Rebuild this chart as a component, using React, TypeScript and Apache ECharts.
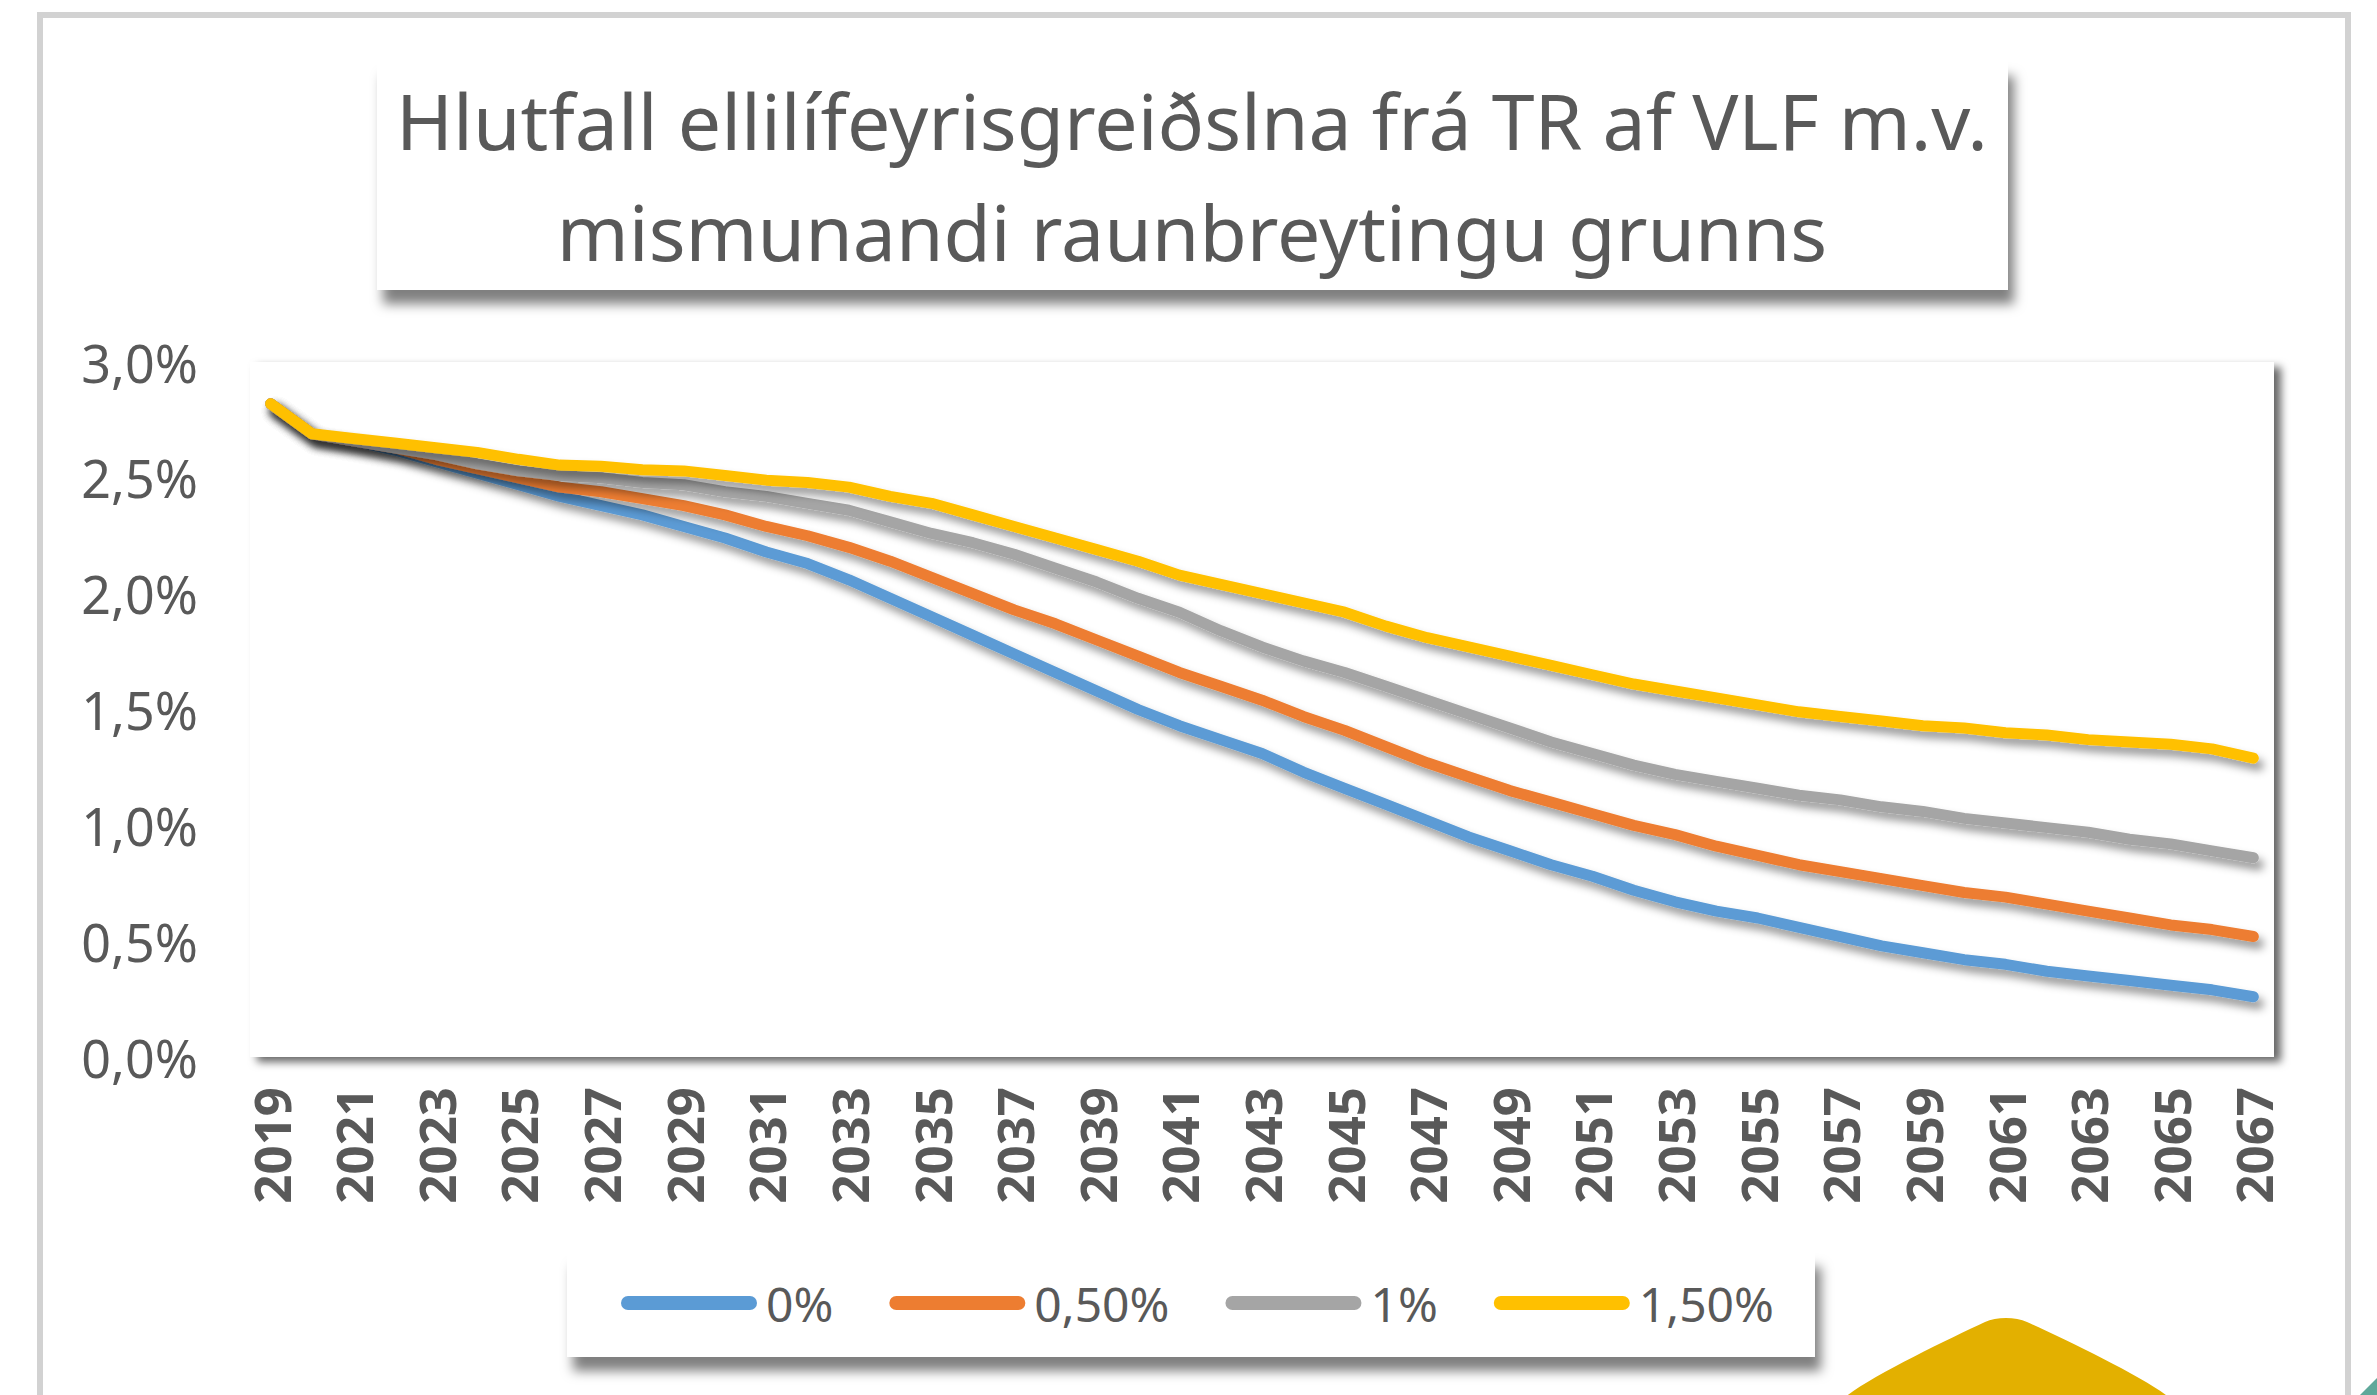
import React, { useEffect, useRef } from "react";
import * as echarts from "echarts";

const years = [
  "2019", "2020", "2021", "2022", "2023", "2024", "2025", "2026", "2027", "2028",
  "2029", "2030", "2031", "2032", "2033", "2034", "2035", "2036", "2037", "2038",
  "2039", "2040", "2041", "2042", "2043", "2044", "2045", "2046", "2047", "2048",
  "2049", "2050", "2051", "2052", "2053", "2054", "2055", "2056", "2057", "2058",
  "2059", "2060", "2061", "2062", "2063", "2064", "2065", "2066", "2067",
];

const seriesNames = ["0%", "0,50%", "1%", "1,50%"];

const growth0 = [
  2.82, 2.69, 2.66, 2.62, 2.57, 2.52, 2.47, 2.42, 2.38, 2.34,
  2.29, 2.24, 2.18, 2.13, 2.06, 1.98, 1.9, 1.82, 1.74, 1.66,
  1.58, 1.5, 1.43, 1.37, 1.31, 1.23, 1.16, 1.09, 1.02, 0.95,
  0.89, 0.83, 0.78, 0.72, 0.67, 0.63, 0.6, 0.56, 0.52, 0.48,
  0.45, 0.42, 0.4, 0.37, 0.35, 0.33, 0.31, 0.29, 0.26,
];

const growth050 = [
  2.82, 2.69, 2.66, 2.63, 2.58, 2.54, 2.5, 2.46, 2.44, 2.41,
  2.38, 2.34, 2.29, 2.25, 2.2, 2.14, 2.07, 2.0, 1.93, 1.87,
  1.8, 1.73, 1.66, 1.6, 1.54, 1.47, 1.41, 1.34, 1.27, 1.21,
  1.15, 1.1, 1.05, 1.0, 0.96, 0.91, 0.87, 0.83, 0.8, 0.77,
  0.74, 0.71, 0.69, 0.66, 0.63, 0.6, 0.57, 0.55, 0.52,
];

const growth1 = [
  2.82, 2.69, 2.66, 2.63, 2.6, 2.56, 2.53, 2.51, 2.5, 2.48,
  2.47, 2.44, 2.42, 2.39, 2.36, 2.31, 2.26, 2.22, 2.17, 2.11,
  2.05, 1.98, 1.92, 1.84, 1.77, 1.71, 1.66, 1.6, 1.54, 1.48,
  1.42, 1.36, 1.31, 1.26, 1.22, 1.19, 1.16, 1.13, 1.11, 1.08,
  1.06, 1.03, 1.01, 0.99, 0.97, 0.94, 0.92, 0.89, 0.86,
];

const growth150 = [
  2.82, 2.69, 2.67, 2.65, 2.63, 2.61, 2.58, 2.555, 2.55, 2.535,
  2.53, 2.51, 2.49, 2.48, 2.46, 2.42, 2.39, 2.34, 2.29, 2.24,
  2.19, 2.14, 2.08, 2.04, 2.0, 1.96, 1.92, 1.86, 1.81, 1.77,
  1.73, 1.69, 1.65, 1.61, 1.58, 1.55, 1.52, 1.49, 1.47, 1.45,
  1.43, 1.42, 1.4, 1.39, 1.37, 1.36, 1.35, 1.33, 1.29,
];

const seriesData = [growth0, growth050, growth1, growth150];
const seriesColors = ["#5B9BD5", "#ED7D31", "#A5A5A5", "#FFC000"];

const titleLines = [
  "Hlutfall ellilífeyrisgreiðslna frá TR af VLF m.v.",
  "mismunandi raunbreytingu grunns",
];

const FONT = '"Noto Sans", "Open Sans", sans-serif';
const TEXT_COLOR = "#595959";

export default function App() {
  const ref = useRef<HTMLDivElement>(null);

  useEffect(() => {
    document.body.style.margin = "0";
    if (!ref.current) return;
    const chart = echarts.init(ref.current, undefined, { renderer: "svg" });

    const option: any = {
      animation: false,
      backgroundColor: "#ffffff",
      textStyle: { fontFamily: FONT },
      grid: {
        left: 250,
        right: 103,
        top: 362,
        bottom: 338,
        show: true,
        backgroundColor: "#ffffff",
        borderWidth: 0,
        shadowColor: "rgba(0,0,0,0.6)",
        shadowBlur: 8,
        shadowOffsetX: 7,
        shadowOffsetY: 5,
      },
      xAxis: {
        type: "category",
        data: years,
        boundaryGap: true,
        axisTick: { show: false },
        axisLine: {
          show: true,
          lineStyle: {
            color: "#bfbfbf",
            width: 4,
            shadowColor: "rgba(0,0,0,0.35)",
            shadowBlur: 6,
            shadowOffsetX: 6,
            shadowOffsetY: 8,
          },
        },
        axisLabel: {
          interval: 1,
          rotate: 90,
          margin: 30,
          fontSize: 51,
          fontWeight: "bold",
          color: TEXT_COLOR,
          fontFamily: FONT,
        },
        splitLine: { show: false },
      },
      yAxis: {
        type: "value",
        min: 0,
        max: 3,
        interval: 0.5,
        axisLine: { show: false },
        axisTick: { show: false },
        axisLabel: {
          margin: 52,
          fontSize: 52,
          color: TEXT_COLOR,
          fontFamily: FONT,
          formatter: (v: number) => v.toFixed(1).replace(".", ",") + "%",
        },
        splitLine: {
          show: true,
          lineStyle: {
            color: "#d9d9d9",
            width: 4,
            shadowColor: "rgba(0,0,0,0.3)",
            shadowBlur: 8,
            shadowOffsetX: 8,
            shadowOffsetY: 12,
          },
        },
      },
      legend: {
        data: seriesNames,
        left: 621,
        top: 1279,
        padding: 0,
        itemGap: 56,
        itemWidth: 136,
        itemHeight: 14,
        icon: "path://M7 0H129A7 7 0 0 1 129 14H7A7 7 0 0 1 7 0Z",
        z: 10,
        textStyle: {
          fontSize: 48,
          color: TEXT_COLOR,
          fontFamily: FONT,
          padding: [0, 0, 0, 4],
        },
      },
      series: seriesNames.map((name, i) => ({
        name,
        type: "line",
        data: seriesData[i],
        showSymbol: false,
        symbol: "none",
        smooth: false,
        color: seriesColors[i],
        z: 3 + i,
        lineStyle: {
          color: seriesColors[i],
          width: 11,
          cap: "round",
          join: "round",
          shadowColor: "rgba(0,0,0,0.4)",
          shadowBlur: 8,
          shadowOffsetX: 5,
          shadowOffsetY: 7,
        },
        emphasis: { disabled: true },
      })),
      graphic: [
        {
          type: "rect",
          z: 0,
          shape: { x: 40, y: 15, width: 2308, height: 1400 },
          style: { fill: "none", stroke: "#d2d2d2", lineWidth: 6 },
        },
        {
          type: "rect",
          z: 1,
          shape: { x: 377, y: 62, width: 1631, height: 228 },
          style: {
            fill: "#ffffff",
            shadowColor: "rgba(0,0,0,0.5)",
            shadowBlur: 12,
            shadowOffsetX: 6,
            shadowOffsetY: 14,
          },
        },
        {
          type: "text",
          z: 2,
          style: {
            text: titleLines[0],
            x: 1192,
            y: 120,
            textAlign: "center",
            textVerticalAlign: "middle",
            fontSize: 77,
            fontFamily: FONT,
            fill: TEXT_COLOR,
          },
        },
        {
          type: "text",
          z: 2,
          style: {
            text: titleLines[1],
            x: 1192,
            y: 231,
            textAlign: "center",
            textVerticalAlign: "middle",
            fontSize: 77,
            fontFamily: FONT,
            fill: TEXT_COLOR,
          },
        },
        {
          type: "rect",
          z: 1,
          shape: { x: 567, y: 1253, width: 1248, height: 104 },
          style: {
            fill: "#ffffff",
            shadowColor: "rgba(0,0,0,0.5)",
            shadowBlur: 12,
            shadowOffsetX: 6,
            shadowOffsetY: 14,
          },
        },
        {
          type: "polygon",
          z: 1,
          shape: {
            points: [
              [1840, 1409],
              [1985, 1322],
              [2027, 1322],
              [2174, 1409],
            ],
            smooth: 0.3,
          },
          style: { fill: "#E3B000" },
        },
        {
          type: "polygon",
          z: 1,
          shape: { points: [[2377, 1378], [2377, 1395], [2360, 1395]] },
          style: { fill: "#5fa89a" },
        },
      ],
    };

    chart.setOption(option);
    return () => chart.dispose();
  }, []);

  return <div ref={ref} style={{ width: 2377, height: 1395 }} />;
}
